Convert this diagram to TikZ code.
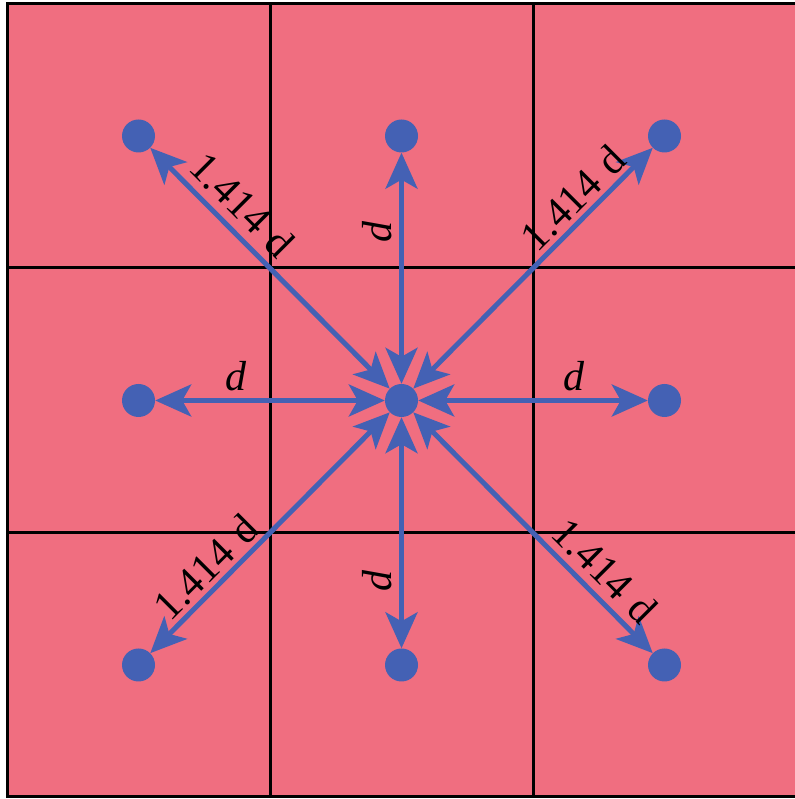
\documentclass[tikz,border=0pt]{standalone}
\usepackage{fontspec}
\setmainfont{Liberation Serif}
\usetikzlibrary{arrows.meta}
\definecolor{cellpink}{RGB}{240,110,128}
\definecolor{dotblue}{RGB}{68,97,180}

\begin{document}
\begin{tikzpicture}[x=1pt,y=1pt,>={Stealth[length=36pt,width=32pt,inset=9pt]},
 dot/.style={circle,fill=dotblue,inner sep=0pt,minimum size=33pt},
 link/.style={<->,draw=dotblue,line width=5pt},
 lbl/.style={font=\fontsize{42}{50}\selectfont,inner sep=2pt},
 gridline/.style={line width=3pt}]
 \useasboundingbox (0,0) rectangle (794,799);
 % cells
 \fill[cellpink] (7,2) rectangle (796,795);
 \foreach \x in {270,533} \draw[gridline] (\x,2)--(\x,795);
 \foreach \y in {266,531} \draw[gridline] (7,\y)--(796,\y);
 \draw[gridline] (7,2) rectangle (796,795);
 % centres
 \node[dot] (c) at (401.5,398.5) {};
 \foreach \n/\x/\y in {nw/138.5/663,n/401.5/663,ne/664.5/663,w/138.5/398.5,
   e/664.5/398.5,sw/138.5/134,s/401.5/134,se/664.5/134}
   \node[dot] (\n) at (\x,\y) {};
 % distances
 \draw[link] (c)--(nw) node[lbl,pos=.69,rotate=-45,above=6pt]{1.414\hspace{.3em}d};
 \draw[link] (c)--(ne) node[lbl,pos=.73,rotate=45,above=2pt]{1.414\hspace{.3em}d};
 \draw[link] (c)--(sw) node[lbl,pos=.705,rotate=45,above=2pt]{1.414\hspace{.3em}d};
 \draw[link] (c)--(se) node[lbl,pos=.73,rotate=-45,above=5pt]{1.414\hspace{.3em}d};
 \draw[link] (c)--(n) node[lbl,pos=.655,rotate=90,above=5pt]{\textit{d}};
 \draw[link] (c)--(s) node[lbl,pos=.71,rotate=90,above=5pt]{\textit{d}};
 \draw[link] (c)--(w) node[lbl,pos=.65,above=5pt]{\textit{d}};
 \draw[link] (c)--(e) node[lbl,pos=.68,above=5pt]{\textit{d}};
\end{tikzpicture}
\end{document}
